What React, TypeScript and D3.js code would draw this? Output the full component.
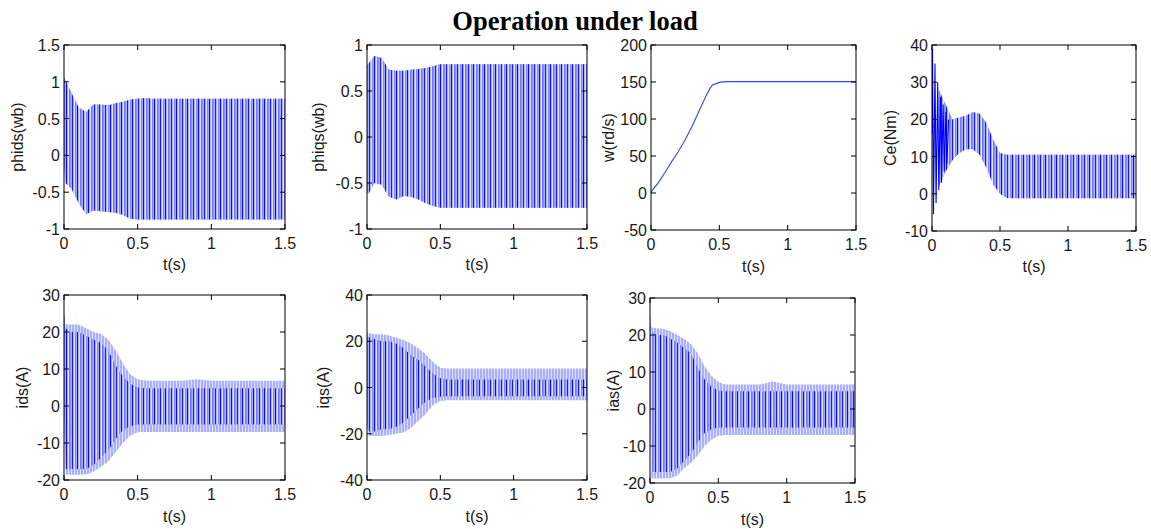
import React from "react";
import * as d3 from "d3";

// ---------- data ----------
const T = [0, 0.01, 0.05, 0.1, 0.15, 0.2, 0.25, 0.3, 0.35, 0.4, 0.45, 0.5, 0.55, 0.6, 0.7, 0.8, 0.9, 1.0, 1.1, 1.2, 1.3, 1.4, 1.5];

const phidsHi = [1.07, 1.02, 0.85, 0.65, 0.59, 0.69, 0.69, 0.68, 0.71, 0.73, 0.76, 0.77, 0.78, 0.77, 0.77, 0.77, 0.77, 0.77, 0.77, 0.77, 0.77, 0.77, 0.77];
const phidsLo = [-0.1, -0.38, -0.45, -0.65, -0.8, -0.75, -0.76, -0.77, -0.78, -0.81, -0.86, -0.87, -0.87, -0.87, -0.87, -0.87, -0.87, -0.87, -0.87, -0.87, -0.87, -0.87, -0.87];

const phiqsHi = [0.78, 0.8, 0.88, 0.86, 0.73, 0.72, 0.72, 0.73, 0.74, 0.75, 0.77, 0.79, 0.79, 0.79, 0.79, 0.79, 0.79, 0.79, 0.79, 0.79, 0.79, 0.79, 0.79];
const phiqsLo = [-0.6, -0.62, -0.5, -0.52, -0.65, -0.68, -0.64, -0.65, -0.68, -0.72, -0.75, -0.77, -0.77, -0.77, -0.77, -0.77, -0.77, -0.77, -0.77, -0.77, -0.77, -0.77, -0.77];

const wT = [0, 0.01, 0.05, 0.1, 0.15, 0.2, 0.25, 0.3, 0.35, 0.4, 0.43, 0.45, 0.5, 0.55, 1.5];
const wVal = [0, 4, 13, 27, 42, 56, 72, 90, 110, 130, 141, 146, 149.5, 150.5, 150.5];

const ceT = [0.05, 0.1, 0.15, 0.2, 0.25, 0.3, 0.35, 0.4, 0.45, 0.5, 0.55, 0.6, 0.8, 1.0, 1.2, 1.5];
const ceHi = [28, 24, 20, 20.5, 21, 22, 21.5, 19, 14.5, 11, 10.5, 10.5, 10.5, 10.5, 10.5, 10.5];
const ceLo = [2, 6, 9, 11, 12, 12, 10.5, 7, 2.5, 0, -1.1, -1.2, -1.2, -1.2, -1.2, -1.2];
const ceSpikeT = [0, 0.004, 0.011, 0.022, 0.03, 0.042, 0.05, 0.062, 0.07, 0.082, 0.09, 0.102, 0.11, 0.122];
const ceSpikeV = [16, 39, -5.5, 35, -2.5, 30, 1, 26, 3, 24, 6, 22, 8, 20];

const idsHi = [25, 22, 22, 22, 21, 20, 19.5, 18, 15, 11.5, 8.5, 7.2, 6.9, 6.8, 6.8, 6.8, 7.2, 6.8, 6.8, 6.8, 6.8, 6.8, 6.8];
const idsLo = [0, -18.5, -18.6, -18.6, -18.5, -17.8, -16.5, -15, -12.5, -10, -8, -7.1, -7, -7, -7, -7, -7, -7, -7, -7, -7, -7, -7];
const idsHiIn = [25, 21, 20, 20, 19, 18, 17, 15, 11, 8, 6, 5, 4.8, 4.8, 4.8, 4.8, 4.8, 4.8, 4.8, 4.8, 4.8, 4.8, 4.8];
const idsLoIn = [0, -17, -17, -17, -17, -16, -14, -12, -9, -6.5, -5.5, -5, -5, -5, -5, -5, -5, -5, -5, -5, -5, -5, -5];

const iqsHi = [24, 23.5, 23, 23, 22.5, 21.5, 20.5, 19, 17, 14.5, 11, 8.5, 8.2, 8.2, 8.2, 8.2, 8.2, 8.2, 8.2, 8.2, 8.2, 8.2, 8.2];
const iqsLo = [-15, -21, -21, -21, -20.5, -20, -19.5, -17.5, -14.5, -11.5, -7.6, -5.8, -5.5, -5.5, -5.5, -5.5, -5.5, -5.5, -5.5, -5.5, -5.5, -5.5, -5.5];
const iqsHiIn = [22, 22, 21, 20, 20, 19, 17, 14, 12, 9, 6, 4, 3.5, 3.5, 3.5, 3.5, 3.5, 3.5, 3.5, 3.5, 3.5, 3.5, 3.5];
const iqsLoIn = [-15, -19, -19, -18, -18, -17, -15, -12, -9, -6, -4.5, -4, -3.8, -3.8, -3.8, -3.8, -3.8, -3.8, -3.8, -3.8, -3.8, -3.8, -3.8];

const iasHi = [26, 22, 21.8, 21.6, 21, 20, 19, 17.5, 15, 11.5, 9, 7.3, 6.6, 6.6, 6.6, 6.6, 7.4, 6.6, 6.6, 6.6, 6.6, 6.6, 6.6];
const iasLo = [0, -18.7, -18.8, -18.8, -18.7, -18, -16, -14.5, -12.5, -10, -8.3, -7.2, -7, -7, -7, -7, -7, -7, -7, -7, -7, -7, -7];
const iasHiIn = [26, 21, 20, 20, 19, 18, 16.5, 15, 11, 8, 6, 5, 4.8, 4.8, 4.8, 4.8, 4.8, 4.8, 4.8, 4.8, 4.8, 4.8, 4.8];
const iasLoIn = [0, -17, -17, -17, -17, -16, -14, -12, -9, -6.5, -5.5, -5, -5, -5, -5, -5, -5, -5, -5, -5, -5, -5, -5];

const xTicks = [0, 0.5, 1, 1.5];
const phiTicks1 = [-1, -0.5, 0, 0.5, 1, 1.5];
const phiTicks2 = [-1, -0.5, 0, 0.5, 1];
const wTicks = [-50, 0, 50, 100, 150, 200];
const ceTicks = [-10, 0, 10, 20, 30, 40];
const idsTicks = [-20, -10, 0, 10, 20, 30];
const iqsTicks = [-40, -20, 0, 20, 40];

const TITLE = "Operation under load";
const XLABEL = "t(s)";

// ---------- layout ----------
type Panel = {
  id: string;
  label: string;
  box: [number, number, number, number]; // left, top, right, bottom
  yTicks: number[];
  labelX: number;
  xLabelY: number;
  t?: number[];
  hi?: number[];
  lo?: number[];
  hiIn?: number[];
  loIn?: number[];
  line?: { t: number[]; v: number[] };
  spikes?: { t: number[]; v: number[] };
};

const panels: Panel[] = [
  { id: "p1", label: "phids(wb)", box: [64, 45, 285, 229], yTicks: phiTicks1, labelX: 17, xLabelY: 264, t: T, hi: phidsHi, lo: phidsLo },
  { id: "p2", label: "phiqs(wb)", box: [367, 45, 587, 229], yTicks: phiTicks2, labelX: 318, xLabelY: 264, t: T, hi: phiqsHi, lo: phiqsLo },
  { id: "p3", label: "w(rd/s)", box: [651, 45, 856, 230], yTicks: wTicks, labelX: 608, xLabelY: 266, line: { t: wT, v: wVal } },
  { id: "p4", label: "Ce(Nm)", box: [932, 45, 1136, 231], yTicks: ceTicks, labelX: 890, xLabelY: 266, t: ceT, hi: ceHi, lo: ceLo, spikes: { t: ceSpikeT, v: ceSpikeV } },
  { id: "p5", label: "ids(A)", box: [64, 295, 285, 480], yTicks: idsTicks, labelX: 22, xLabelY: 516, t: T, hi: idsHi, lo: idsLo, hiIn: idsHiIn, loIn: idsLoIn },
  { id: "p6", label: "iqs(A)", box: [367, 295, 587, 480], yTicks: iqsTicks, labelX: 323, xLabelY: 516, t: T, hi: iqsHi, lo: iqsLo, hiIn: iqsHiIn, loIn: iqsLoIn },
  { id: "p7", label: "ias(A)", box: [650, 298, 855, 483], yTicks: idsTicks, labelX: 613, xLabelY: 519, t: T, hi: iasHi, lo: iasLo, hiIn: iasHiIn, loIn: iasLoIn },
];

const FONT = "'Liberation Sans', Arial, sans-serif";
const TEXT = "#1a1a1a";
const LIGHT = "#a9afff";
const DARK = "#0000ff";

function PanelView({ p }: { p: Panel }) {
  const [l, tp, r, b] = p.box;
  const ys = p.yTicks;
  const x = d3.scaleLinear().domain([0, 1.5]).range([l, r]);
  const y = d3.scaleLinear().domain([ys[0], ys[ys.length - 1]]).range([b, tp]);
  const tl = 5;

  let bandPath: string | null = null;
  let innerPath: string | null = null;
  if (p.t && p.hi && p.lo) {
    const t = p.t, hi = p.hi, lo = p.lo;
    bandPath = d3
      .area<number>()
      .x((_, i) => x(t[i]))
      .y0((_, i) => y(lo[i]))
      .y1((_, i) => y(hi[i]))(t) as string;
    const hiIn = p.hiIn || hi;
    const loIn = p.loIn || lo;
    innerPath = d3
      .area<number>()
      .x((_, i) => x(t[i]))
      .y0((_, i) => y(loIn[i]))
      .y1((_, i) => y(hiIn[i]))(t) as string;
  }
  let linePath: string | null = null;
  if (p.line) {
    const lt = p.line.t, lv = p.line.v;
    linePath = d3.line<number>().x((d) => x(d)).y((_, i) => y(lv[i]))(lt) as string;
  }
  let spikePath: string | null = null;
  if (p.spikes) {
    const st = p.spikes.t, sv = p.spikes.v;
    spikePath = d3.line<number>().x((d) => x(d)).y((_, i) => y(sv[i]))(st) as string;
  }

  return (
    <g>
      <clipPath id={`clip-${p.id}`}>
        <rect x={l} y={tp} width={r - l} height={b - tp} />
      </clipPath>
      <rect x={l} y={tp} width={r - l} height={b - tp} fill="#fff" />
      <g clipPath={`url(#clip-${p.id})`}>
        {bandPath && <path d={bandPath} fill="url(#lightStripes)" />}
        {innerPath && <path d={innerPath} fill="url(#darkStripes)" />}
        {spikePath && <path d={spikePath} fill="none" stroke={DARK} strokeWidth={1.1} />}
        {linePath && <path d={linePath} fill="none" stroke="#3344ff" strokeWidth={1.1} />}
      </g>
      <rect x={l} y={tp} width={r - l} height={b - tp} fill="none" stroke="#000" strokeWidth={1} />
      {xTicks.map((v) => (
        <g key={`x${v}`}>
          <line x1={x(v)} x2={x(v)} y1={b} y2={b - tl} stroke="#000" />
          <line x1={x(v)} x2={x(v)} y1={tp} y2={tp + tl} stroke="#000" />
          <text x={x(v)} y={b + 20} textAnchor="middle" fontFamily={FONT} fontSize={16} fill={TEXT}>
            {String(v)}
          </text>
        </g>
      ))}
      {ys.map((v) => (
        <g key={`y${v}`}>
          <line x1={l} x2={l + tl} y1={y(v)} y2={y(v)} stroke="#000" />
          <line x1={r} x2={r - tl} y1={y(v)} y2={y(v)} stroke="#000" />
          <text x={l - 4} y={y(v) + 6} textAnchor="end" fontFamily={FONT} fontSize={16} fill={TEXT}>
            {String(v)}
          </text>
        </g>
      ))}
      <text
        transform={`translate(${p.labelX},${(tp + b) / 2}) rotate(-90)`}
        textAnchor="middle"
        dominantBaseline="central"
        fontFamily={FONT}
        fontSize={16}
        fill={TEXT}
      >
        {p.label}
      </text>
      <text x={(l + r) / 2} y={p.xLabelY + 6} textAnchor="middle" fontFamily={FONT} fontSize={16} fill={TEXT}>
        {XLABEL}
      </text>
    </g>
  );
}

export default function App() {
  return (
    <svg width={1151} height={529} style={{ position: "absolute", left: 0, top: 0, background: "#fff" }}>
      <defs>
        <pattern id="lightStripes" patternUnits="userSpaceOnUse" width={3} height={10}>
          <rect x={0} y={0} width={3} height={10} fill="#dfe1ff" />
          <rect x={0} y={0} width={2} height={10} fill={LIGHT} />
        </pattern>
        <pattern id="darkStripes" patternUnits="userSpaceOnUse" width={11} height={10}>
          <rect x={0} y={0} width={11} height={10} fill={LIGHT} />
          <rect x={2} y={0} width={1} height={10} fill="#e4e6ff" />
          <rect x={8} y={0} width={1} height={10} fill="#e4e6ff" />
          <rect x={0} y={0} width={1} height={10} fill={DARK} opacity={0.95} />
          <rect x={3.5} y={0} width={0.8} height={10} fill={DARK} opacity={0.6} />
          <rect x={6} y={0} width={1} height={10} fill={DARK} opacity={0.85} />
          <rect x={9.5} y={0} width={0.6} height={10} fill={DARK} opacity={0.45} />
        </pattern>
      </defs>
      <rect x={0} y={0} width={1151} height={529} fill="#fff" />
      <text
        x={575}
        y={30}
        textAnchor="middle"
        fontFamily="'Liberation Serif', 'Times New Roman', serif"
        fontWeight="bold"
        fontSize={26.5}
        fill="#000"
      >
        {TITLE}
      </text>
      {panels.map((p) => (
        <PanelView key={p.id} p={p} />
      ))}
    </svg>
  );
}
